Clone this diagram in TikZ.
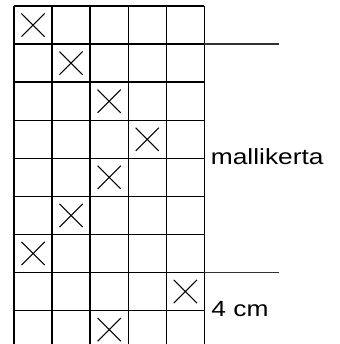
\documentclass[tikz,border=0pt]{standalone}
\usepackage{fontspec}
\setmainfont{Liberation Sans}
\newfontfamily\labelfont[FakeStretch=1.2]{Liberation Sans}
\usepackage{tikz}
\usetikzlibrary{positioning}

\begin{document}
\begin{tikzpicture}[
  x=1cm,y=1cm,
  gridline/.style={line width=1pt,black},
  sideline/.style={line width=1pt,black!80},
  cross/.style={line width=0.8pt,black},
  lbl/.style={inner sep=0pt,anchor=base west,font=\labelfont\fontsize{16.4}{18}\selectfont}
]
\useasboundingbox (-0.368,0.158) rectangle (8.537,-8.878);
% grid of 5 columns, the last row runs off the bottom
\foreach \c in {0,...,5}
  \draw[gridline] (\c,0) -- (\c,-8.9);
\foreach \r in {0,...,8}
  \draw[gridline] (0,-\r) -- (5,-\r);
% crosses (column, row)
\foreach \c/\r in {1/1,2/2,3/3,4/4,3/5,2/6,1/7,5/8,3/9}
  \draw[cross] (\c-0.5-0.305,-\r+0.5+0.305) -- (\c-0.5+0.305,-\r+0.5-0.305)
               (\c-0.5-0.305,-\r+0.5-0.305) -- (\c-0.5+0.305,-\r+0.5+0.305);
% pattern repeat marks
\coordinate (top) at (5,-1);
\coordinate (topend) at (6.95,-1);
\coordinate (bot) at (5,-7);
\coordinate (botend) at (6.95,-7);
\draw[sideline] (top) -- (topend);
\draw[sideline] (bot) -- (botend);
\node[lbl] (repeat) at (5.165,-4.17) {mallikerta};
\node[lbl] (size) at (5.18,-8.16) {4 cm};
\end{tikzpicture}
\end{document}
